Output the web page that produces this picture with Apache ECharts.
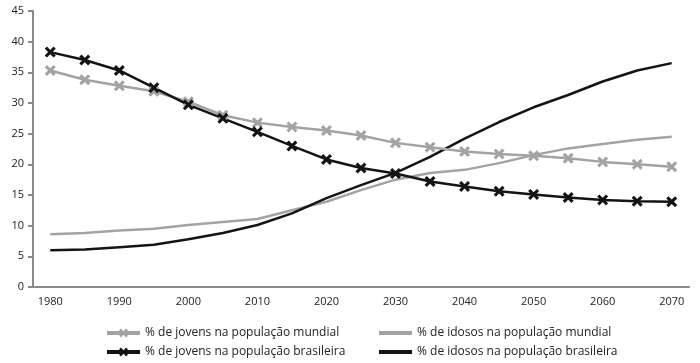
<!DOCTYPE html>
<html>
<head>
<meta charset="utf-8">
<script src="https://cdn.jsdelivr.net/npm/echarts@6/dist/echarts.min.js"></script>
<style>html,body{margin:0;padding:0;background:#fff}#c{width:700px;height:363px}</style>
</head>
<body>
<div id="c"></div>
<script>
const years = ['1980','1985','1990','1995','2000','2005','2010','2015','2020','2025','2030','2035','2040','2045','2050','2055','2060','2065','2070'];
const jovensMundial = [35.3, 33.8, 32.8, 31.9, 30.2, 28.0, 26.8, 26.1, 25.5, 24.7, 23.5, 22.8, 22.1, 21.7, 21.4, 21.0, 20.4, 20.0, 19.6];
const idososMundial = [8.6, 8.8, 9.2, 9.5, 10.1, 10.6, 11.1, 12.5, 13.9, 15.8, 17.5, 18.6, 19.1, 20.2, 21.5, 22.6, 23.3, 24.0, 24.5];
const jovensBrasil = [38.3, 37.0, 35.3, 32.5, 29.7, 27.5, 25.3, 23.0, 20.8, 19.4, 18.5, 17.2, 16.4, 15.6, 15.1, 14.6, 14.2, 14.0, 13.9];
const idososBrasil = [6.0, 6.1, 6.5, 6.9, 7.8, 8.8, 10.1, 12.0, 14.5, 16.6, 18.6, 21.2, 24.2, 26.9, 29.3, 31.3, 33.5, 35.3, 36.5];
const names = ['% de jovens na população mundial','% de idosos na população mundial','% de jovens na população brasileira','% de idosos na população brasileira'];

const GRAY = '#a3a3a3', BLACK = '#141414';
const X = 'path://M2,0 L5,3 L8,0 L10,2 L7,5 L10,8 L8,10 L5,7 L2,10 L0,8 L3,5 L0,2 Z';
const font = '"Open Sans", sans-serif';
const chart = echarts.init(document.getElementById('c'));
function legendCol(left, items) {
  return {orient:'vertical', left:left, top:322, height:60, itemWidth:33, itemHeight:11, itemGap:7,
    textStyle:{fontFamily:font, fontSize:12, color:'#222'}, data:items};
}
chart.setOption({
  animation:false,
  grid:{left:33, right:11, top:11, bottom:76, containLabel:false},
  legend:[
    legendCol(100, [{name:names[0], lineStyle:{width:4}}, {name:names[2], lineStyle:{width:4}}]),
    legendCol(372, [{name:names[1], lineStyle:{width:4}, itemStyle:{color:'transparent', borderWidth:0}},
                    {name:names[3], lineStyle:{width:4}, itemStyle:{color:'transparent', borderWidth:0}}])
  ],
  xAxis:{type:'category', data:years, boundaryGap:true,
    axisLine:{lineStyle:{color:'#8a8a8a', width:2}},
    axisTick:{interval:0, length:5, lineStyle:{color:'#8a8a8a', width:2}},
    axisLabel:{interval:1, margin:9, fontFamily:font, fontSize:11, color:'#222'}},
  yAxis:{type:'value', min:0, max:45, interval:5,
    axisLine:{show:true, lineStyle:{color:'#8a8a8a', width:2}},
    axisTick:{show:true, length:5, lineStyle:{color:'#8a8a8a', width:2}},
    splitLine:{show:false},
    axisLabel:{margin:9, fontFamily:font, fontSize:11, color:'#222'}},
  series:[
    {name:names[1], type:'line', data:idososMundial, showSymbol:false, symbol:'none', lineStyle:{color:GRAY, width:2.5}, itemStyle:{color:GRAY}},
    {name:names[3], type:'line', data:idososBrasil, showSymbol:false, symbol:'none', lineStyle:{color:BLACK, width:2.5}, itemStyle:{color:BLACK}},
    {name:names[0], type:'line', data:jovensMundial, symbol:X, symbolSize:11, lineStyle:{color:GRAY, width:2.5}, itemStyle:{color:GRAY}},
    {name:names[2], type:'line', data:jovensBrasil, symbol:X, symbolSize:11, lineStyle:{color:BLACK, width:2.5}, itemStyle:{color:BLACK}}
  ]
});
</script>
</body>
</html>
